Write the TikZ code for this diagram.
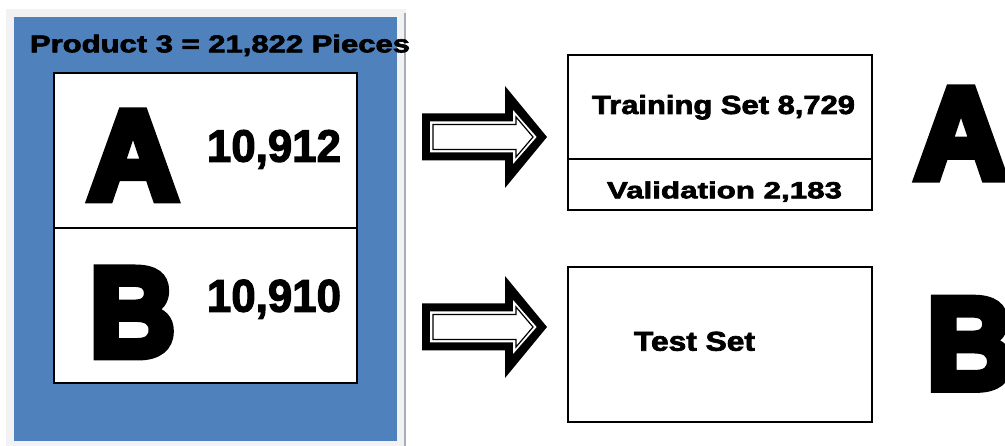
\documentclass[tikz,border=0pt]{standalone}
\usepackage{graphicx}
\usepackage{fontspec}
\setmainfont{Liberation Sans}
\newfontfamily\heavy{Liberation Sans Bold}[FakeBold=2.5]
\newfontfamily\ultra{Liberation Sans Bold}[FakeBold=7]
\newcommand\fitt[3]{\resizebox{#1pt}{#2pt}{\heavy #3}}
\newcommand\fitu[3]{\resizebox{#1pt}{#2pt}{\ultra #3}}
\definecolor{officeblue}{HTML}{4F81BD}
\definecolor{framegray}{HTML}{F2F2F2}
\definecolor{edgegray}{HTML}{A5ADB9}
\tikzset{
  txt/.style={anchor=base west, inner sep=0pt, outer sep=0pt},
  boxline/.style={draw=black, line width=1.4pt},
  bigarrow/.pic={
    \fill[black] (0,-23.5) -- (83,-23.5) -- (83,-51) -- (125,0) -- (83,51) -- (83,23.5) -- (0,23.5) -- cycle;
    \fill[white] (8,-15.5) -- (91,-15.5) -- (91,-27) -- (114.6,0) -- (91,27) -- (91,15.5) -- (8,15.5) -- cycle;
    \draw[black, line width=1.2pt, line join=miter] (11,-12.5) -- (94,-12.5) -- (94,-20) -- (111,0) -- (94,20) -- (94,12.5) -- (11,12.5) -- cycle;
  }
}
\begin{document}
\begin{tikzpicture}[x=1pt, y=-1pt]
\useasboundingbox (0,0) rectangle (1005,446);
\clip (0,0) rectangle (1005,446);
\fill[white] (0,0) rectangle (1005,446);
% frame and blue panel
\fill[framegray] (6,9) rectangle (406,446);
\draw[edgegray, line width=1.6pt] (405,13) -- (405,446);
\fill[officeblue] (14,17) rectangle (397,441);
\node[txt] (title) at (30,52.3) {\fitt{380}{17.6}{Product 3 = 21,822 Pieces}};
% left white box
\draw[boxline, fill=white] (54,73) rectangle (357,383);
\coordinate (divl) at (54,228);
\coordinate (divr) at (357,228);
\draw[boxline] (divl) -- (divr);
\node[txt] (bigA) at (88,199) {\fitu{90}{87}{A}};
\node[txt] (numA) at (207,161.7) {\fitt{134}{31.7}{10,912}};
\node[txt] (bigB) at (90,356) {\fitu{85}{87}{B}};
\node[txt] (numB) at (207,311.7) {\fitt{134}{32}{10,910}};
% arrows
\pic at (422,137) {bigarrow};
\pic at (422,327) {bigarrow};
% right boxes
\draw[boxline, fill=white] (568,55) rectangle (872,210);
\coordinate (divl2) at (568,159);
\coordinate (divr2) at (872,159);
\draw[boxline] (divl2) -- (divr2);
\node[txt] (train) at (592,114) {\fitt{263}{19}{Training Set 8,729}};
\node[txt] (valid) at (607,198.3) {\fitt{235}{16.9}{Validation 2,183}};
\draw[boxline, fill=white] (568,267) rectangle (872,422);
\node[txt] (test) at (634,350.7) {\fitt{121}{19}{Test Set}};
% right letters
\node[txt] (rA) at (915,178) {\fitu{92}{89}{A}};
\node[txt] (rB) at (927,388.3) {\fitu{87}{89}{B}};
\end{tikzpicture}
\end{document}
